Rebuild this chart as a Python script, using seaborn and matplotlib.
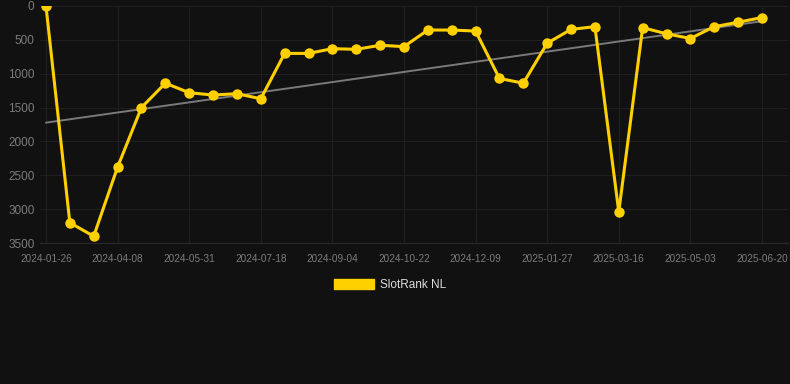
import seaborn as sns
import matplotlib.pyplot as plt
import pandas as pd
import numpy as np

# Data
dates = ['2024-01-26', '2024-02-19', '2024-03-14', '2024-04-08', '2024-04-25', '2024-05-13',
         '2024-05-31', '2024-06-16', '2024-07-02', '2024-07-18', '2024-08-03', '2024-08-19',
         '2024-09-04', '2024-09-20', '2024-10-06', '2024-10-22', '2024-11-07', '2024-11-23',
         '2024-12-09', '2024-12-25', '2025-01-10', '2025-01-27', '2025-02-12', '2025-02-28',
         '2025-03-16', '2025-04-01', '2025-04-17', '2025-05-03', '2025-05-19', '2025-06-04',
         '2025-06-20']
rank = [0, 3200, 3400, 2380, 1500, 1140, 1280, 1315, 1295, 1370, 700, 700,
        630, 640, 580, 600, 355, 355, 370, 1070, 1140, 550, 345, 305,
        3040, 320, 410, 480, 305, 240, 170]

df = pd.DataFrame({'date': dates, 'rank': rank})
df['idx'] = np.arange(len(df))

bg = '#111111'
sns.set_theme(style='dark')
plt.rcParams['font.family'] = ['Liberation Sans', 'DejaVu Sans']

fig = plt.figure(figsize=(7.9, 3.84), dpi=100, facecolor=bg)
ax = fig.add_axes([40 / 790, (384 - 243) / 384, 748 / 790, 237 / 384])
ax.set_facecolor(bg)

# Trend line
sns.regplot(x='idx', y='rank', data=df, scatter=False, ci=None, ax=ax,
            line_kws={'color': '#7a7a7a', 'lw': 1.4, 'zorder': 2})

# Main series
sns.lineplot(x='idx', y='rank', data=df, ax=ax, color='#FFD000', lw=2.2,
             marker='o', markersize=7.5, markeredgewidth=0, zorder=3,
             label='SlotRank NL', legend=False)

ax.set_ylim(3500, 0)
ax.set_xlim(-0.25, len(df) - 1 + 1.09)
ax.set_yticks([0, 500, 1000, 1500, 2000, 2500, 3000, 3500])
tick_idx = df['idx'][::3]
ax.set_xticks(tick_idx)
ax.set_xticklabels(df['date'][::3])

ax.grid(True, color='#1f1f1f', lw=0.8)
ax.tick_params(axis='y', colors='#7c7c7c', labelsize=8.5, length=0, pad=4)
ax.tick_params(axis='x', colors='#7c7c7c', labelsize=7.2, length=0, pad=8)
for s in ['top', 'right', 'left']:
    ax.spines[s].set_visible(False)
ax.spines['bottom'].set_color('#292929')
ax.spines['bottom'].set_linewidth(0.8)
ax.set_xlabel('')
ax.set_ylabel('')

# Legend
handle = plt.Rectangle((0, 0), 1, 1, color='#FFD000')
leg = fig.legend([handle], ['SlotRank NL'], loc='center', bbox_to_anchor=(390 / 790, 1 - 285 / 384),
                 frameon=False, fontsize=8.5, handlelength=3.4, handleheight=1.0,
                 labelcolor='#dddddd', handletextpad=0.5)

fig.savefig('out.png', dpi=100, facecolor=bg)
